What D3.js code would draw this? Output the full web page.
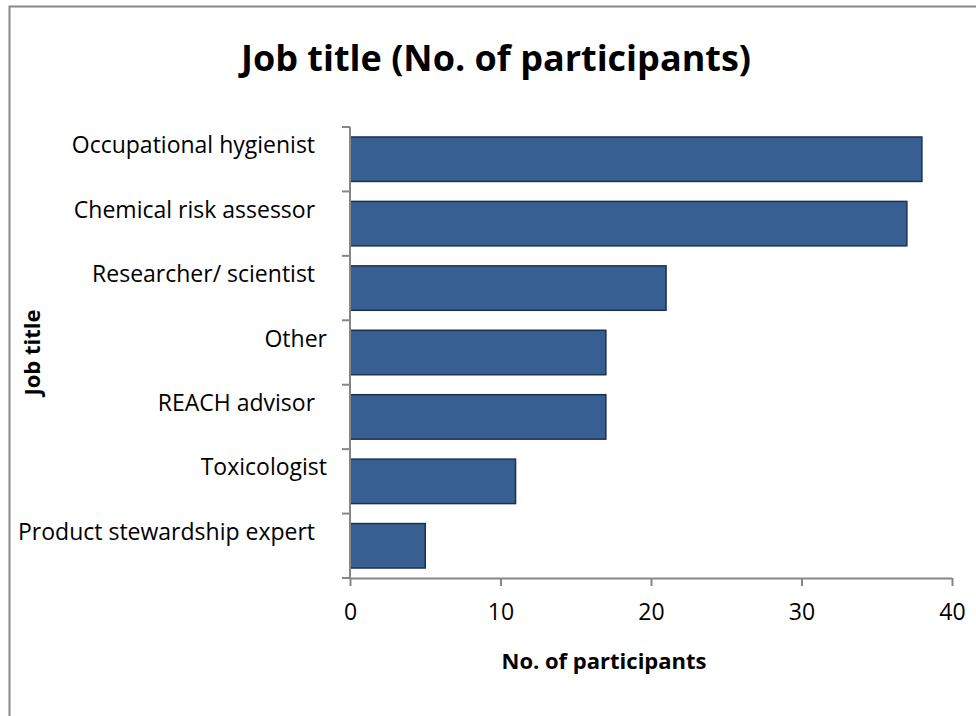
<!DOCTYPE html>
<html>
<head>
<meta charset="utf-8">
<script src="https://cdn.jsdelivr.net/npm/d3@7"></script>
<style>
  html, body { margin: 0; padding: 0; background: #fff; }
  svg { display: block; font-family: "Open Sans", "Noto Sans", sans-serif; }
  .cat { white-space: pre; }
</style>
</head>
<body>
<svg id="chart" width="976" height="716"></svg>
<script>
// Survey respondents by job title (labels keep their trailing spaces)
const categories = [
  "Occupational hygienist  ",
  "Chemical risk assessor  ",
  "Researcher/ scientist  ",
  "Other",
  "REACH advisor  ",
  "Toxicologist",
  "Product stewardship expert  "
];
const participants = [38, 37, 21, 17, 17, 11, 5];
const xTicks = [0, 10, 20, 30, 40];

const chartTitle = "Job title (No. of participants)";
const xTitle = "No. of participants";
const yTitle = "Job title";

const svg = d3.select("#chart");
const W = 976, H = 716;
const margin = { left: 350, right: 24, top: 127, bottom: 138 };

// Chart area frame (runs off the right and bottom edges)
svg.append("rect")
  .attr("x", 9.5).attr("y", 6.5)
  .attr("width", W + 20).attr("height", H + 20)
  .attr("fill", "#fff")
  .attr("stroke", "#888888")
  .attr("stroke-width", 2);

const x = d3.scaleLinear().domain([0, 40]).range([margin.left, W - margin.right]);
const y = d3.scaleBand().domain(categories)
  .range([margin.top, H - margin.bottom])
  .paddingInner(0.31).paddingOuter(0.155);

const axisColor = "#868686";

// Bars
svg.append("g").selectAll("rect")
  .data(categories)
  .join("rect")
  .attr("x", x(0))
  .attr("y", d => y(d))
  .attr("width", (d, i) => x(participants[i]) - x(0))
  .attr("height", y.bandwidth())
  .attr("fill", "#385f91")
  .attr("stroke", "#1b3152")
  .attr("stroke-width", 1.5);

// X axis
const xAxis = svg.append("g")
  .attr("transform", `translate(0,${H - margin.bottom})`)
  .call(d3.axisBottom(x).tickValues(xTicks).tickFormat(d3.format("d")).tickSizeInner(8).tickSizeOuter(0).tickPadding(18));
xAxis.select(".domain").attr("stroke", axisColor).attr("stroke-width", 2);
xAxis.selectAll(".tick line").attr("stroke", axisColor).attr("stroke-width", 2);
xAxis.selectAll(".tick text")
  .attr("fill", "#000")
  .style("font-size", "23px")
  .style("font-family", "'Open Sans', sans-serif");

// Y axis: ticks at band boundaries
const yBounds = categories.map(d => y(d) - y.step() * y.paddingInner() / 2);
yBounds.push(H - margin.bottom);
const yAxis = svg.append("g");
yAxis.append("line")
  .attr("x1", x(0)).attr("x2", x(0))
  .attr("y1", margin.top).attr("y2", H - margin.bottom)
  .attr("stroke", axisColor).attr("stroke-width", 2);
yAxis.selectAll("line.tk")
  .data(yBounds)
  .join("line")
  .attr("class", "tk")
  .attr("x1", x(0) - 8).attr("x2", x(0))
  .attr("y1", d => d).attr("y2", d => d)
  .attr("stroke", axisColor).attr("stroke-width", 2);

// Category labels (sit slightly above each band's centre)
svg.append("g").selectAll("text")
  .data(categories)
  .join("text")
  .attr("class", "cat")
  .attr("x", 327)
  .attr("y", d => y(d) + y.bandwidth() / 2 - 14)
  .attr("dy", "0.35em")
  .attr("text-anchor", "end")
  .style("font-size", "23px")
  .attr("fill", "#000")
  .text(d => d);

// Titles
svg.append("text")
  .attr("x", 496).attr("y", 71)
  .attr("text-anchor", "middle")
  .style("font-size", "36px").style("font-weight", "bold")
  .text(chartTitle);

svg.append("text")
  .attr("x", 604).attr("y", 669)
  .attr("text-anchor", "middle")
  .style("font-size", "22px").style("font-weight", "bold")
  .text(xTitle);

svg.append("text")
  .attr("transform", `translate(40,${(margin.top + H - margin.bottom) / 2}) rotate(-90)`)
  .attr("text-anchor", "middle")
  .style("font-size", "22px").style("font-weight", "bold")
  .text(yTitle);
</script>
</body>
</html>
